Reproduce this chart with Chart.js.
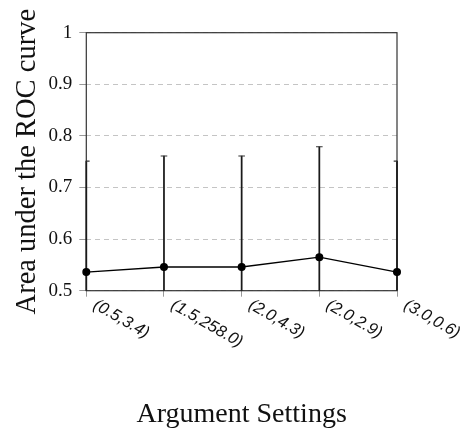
<!DOCTYPE html>
<html>
<head>
<meta charset="utf-8">
<script src="https://cdn.jsdelivr.net/npm/chart.js@4"></script>
<style>
  html, body { margin: 0; padding: 0; background: #fff; }
  #wrap { width: 466px; height: 434px; }
</style>
</head>
<body>
<div id="wrap"><canvas id="c" width="466" height="434"></canvas></div>
<script>
const categories = ['(0.5,3.4)', '(1.5,258.0)', '(2.0,4.3)', '(2.0,2.9)', '(3.0,0.6)'];
const aucMean = [0.536, 0.546, 0.546, 0.565, 0.536];
const aucErr = [0.215, 0.215, 0.215, 0.214, 0.215];
const yTicks = [0.5, 0.6, 0.7, 0.8, 0.9, 1];

const errRanges = aucMean.map((m, i) => [m - aucErr[i], m + aucErr[i]]);
const errTops = aucMean.map((m, i) => m + aucErr[i]);

const boxPlugin = {
  id: 'box',
  beforeDatasetsDraw(chart) {
    const a = chart.chartArea, ctx = chart.ctx;
    ctx.save();
    ctx.strokeStyle = '#333';
    ctx.lineWidth = 1.2;
    ctx.strokeRect(a.left, a.top, a.right - a.left, a.bottom - a.top);
    ctx.restore();
  }
};

const xLabelPlugin = {
  id: 'xlabels',
  afterDraw(chart) {
    const xs = chart.scales.x, ctx = chart.ctx;
    const base = chart.chartArea.bottom;
    ctx.save();
    ctx.fillStyle = '#111';
    ctx.font = 'italic 16.5px "Liberation Sans", Arial, sans-serif';
    ctx.textAlign = 'left';
    ctx.textBaseline = 'alphabetic';
    categories.forEach((lab, i) => {
      const x = xs.getPixelForValue(i);
      ctx.save();
      ctx.translate(x + 6, base + 17);
      ctx.rotate(Math.PI / 6);
      ctx.fillText(lab, 0, 0);
      ctx.restore();
    });
    ctx.restore();
  }
};

new Chart(document.getElementById('c'), {
  type: 'line',
  data: {
    labels: categories,
    datasets: [
      {
        label: 'AUC',
        data: aucMean,
        borderColor: '#000',
        backgroundColor: '#000',
        borderWidth: 1.4,
        pointRadius: 3.3,
        pointBackgroundColor: '#000',
        pointBorderColor: '#000',
        tension: 0,
        clip: false,
        order: 0
      },
      {
        type: 'line',
        label: 'caps',
        data: errTops,
        showLine: false,
        pointStyle: 'line',
        pointRadius: 3.3,
        pointBorderWidth: 1.2,
        borderColor: '#333',
        backgroundColor: '#333',
        clip: 0,
        order: 1
      },
      {
        type: 'bar',
        label: 'err',
        data: errRanges,
        backgroundColor: '#1a1a1a',
        borderWidth: 0,
        barThickness: 1.1,
        clip: { left: 3, right: 3, top: 0, bottom: 0 },
        order: 2
      }
    ]
  },
  options: {
    responsive: false,
    animation: false,
    events: [],
    layout: { padding: { left: 0, right: 69, top: 32.7, bottom: 0 } },
    plugins: { legend: { display: false }, tooltip: { enabled: false } },
    scales: {
      x: {
        type: 'category',
        offset: false,
        grid: { offset: false, drawOnChartArea: false, drawTicks: true, tickLength: 6, color: '#999', lineWidth: 1 },
        border: { display: false },
        ticks: { display: false },
        title: {
          display: true,
          text: 'Argument Settings',
          color: '#111',
          font: { family: '"Liberation Serif", "Times New Roman", serif', size: 28 },
          padding: { top: 0, bottom: 2.7 }
        },
        afterFit(scale) { scale.height = 143.3; }
      },
      y: {
        min: 0.5,
        max: 1,
        afterBuildTicks(scale) { scale.ticks = yTicks.map(v => ({ value: v })); },
        grid: {
          color: '#c4c4c4',
          lineWidth: 1,
          tickLength: 7,
          tickColor: '#999',
          tickBorderDash: []
        },
        border: { display: false, dash: [5, 4] },
        ticks: {
          color: '#111',
          padding: 7,
          font: { family: '"Liberation Serif", "Times New Roman", serif', size: 19 },
          callback: v => String(+(+v).toFixed(1))
        },
        title: {
          display: true,
          text: 'Area under the ROC curve',
          color: '#111',
          font: { family: '"Liberation Serif", "Times New Roman", serif', size: 28.5 },
          padding: { top: 10.5, bottom: 0 }
        },
        afterFit(scale) { scale.width = 86.3; }
      }
    }
  },
  plugins: [boxPlugin, xLabelPlugin]
});
</script>
</body>
</html>
